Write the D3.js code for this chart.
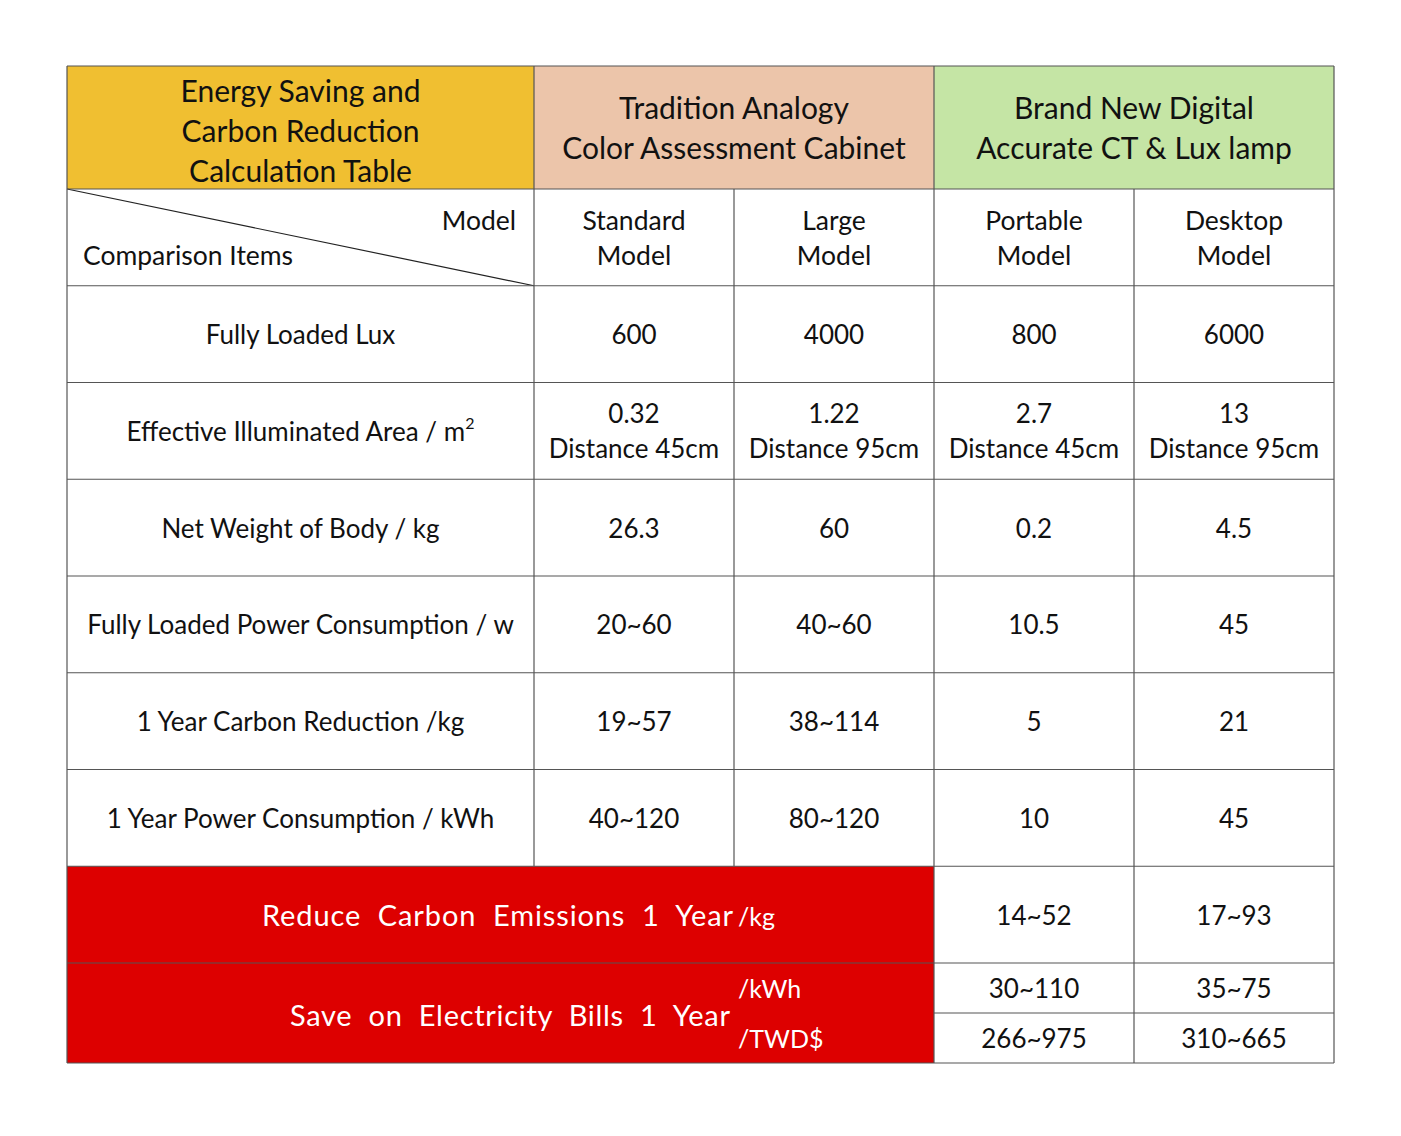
<!DOCTYPE html>
<html>
<head>
<meta charset="utf-8">
<script src="https://cdn.jsdelivr.net/npm/d3@7"></script>
<style>
  body { margin: 0; background: #fff; }
  text { font-family: Lato, "Open Sans", sans-serif; fill: #111; }
</style>
</head>
<body>
<svg id="wrapper" width="1401" height="1136"></svg>
<script>
// table content
let groupTitles = [
	["Energy Saving and", "Carbon Reduction", "Calculation Table"],
	["Tradition Analogy", "Color Assessment Cabinet"],
	["Brand New Digital", "Accurate CT & Lux lamp"],
];
let groupColors = ["#f0bf31", "#ecc5aa", "#c5e5a5"];
let models = [
	["Standard", "Model"],
	["Large", "Model"],
	["Portable", "Model"],
	["Desktop", "Model"],
];
let items = [
	"Fully Loaded Lux",
	"Effective Illuminated Area / m",
	"Net Weight of Body / kg",
	"Fully Loaded Power Consumption / w",
	"1 Year Carbon Reduction /kg",
	"1 Year Power Consumption / kWh",
];
let values = [
	[["600"], ["4000"], ["800"], ["6000"]],
	[["0.32", "Distance 45cm"], ["1.22", "Distance 95cm"], ["2.7", "Distance 45cm"], ["13", "Distance 95cm"]],
	[["26.3"], ["60"], ["0.2"], ["4.5"]],
	[["20~60"], ["40~60"], ["10.5"], ["45"]],
	[["19~57"], ["38~114"], ["5"], ["21"]],
	[["40~120"], ["80~120"], ["10"], ["45"]],
];
let reduceLabel = "Reduce  Carbon  Emissions  1  Year";
let reduceUnit = "/kg";
let reduceValues = ["14~52", "17~93"];
let saveLabel = "Save  on  Electricity  Bills  1  Year";
let saveUnits = ["/kWh", "/TWD$"];
let saveValues = [
	["30~110", "35~75"],
	["266~975", "310~665"],
];

let svg = d3.select("#wrapper");
const lineColor = "#555";
const red = "#dd0000";
const bodySize = 26;

// columns: item column + 4 model columns
let colWidths = [467, 200, 200, 200, 200];
let colEdges = d3.cumsum([0].concat(colWidths));
let x = d3.scaleLinear().domain([0, colEdges[colEdges.length - 1]]).range([67, 1334]);
let colX = (i) => x(colEdges[i]);
let colMid = (i) => (x(colEdges[i]) + x(colEdges[i + 1])) / 2;

// rows
let headerTop = 66, headerBottom = 189;
let bodyRows = ["models"].concat(items, ["reduce"]);
let y = d3.scaleBand().domain(bodyRows).range([headerBottom, 963]);
let lastTop = 963, lastBottom = 1063, lastMid = (lastTop + lastBottom) / 2;

let drawLines = function (g, lines, cx, cy, size, step) {
	let t = g.append("text")
		.attr("x", cx)
		.attr("y", cy)
		.attr("text-anchor", "middle")
		.attr("dominant-baseline", "central")
		.style("font-size", size + "px");
	lines.forEach((line, i) => {
		t.append("tspan")
			.attr("x", cx)
			.attr("y", cy + (i - (lines.length - 1) / 2) * step)
			.text(line);
	});
	return t;
};

// header group cells
let groupSpans = [[0, 1], [1, 3], [3, 5]];
groupSpans.forEach((span, i) => {
	svg.append("rect")
		.attr("x", colX(span[0]))
		.attr("y", headerTop)
		.attr("width", colX(span[1]) - colX(span[0]))
		.attr("height", headerBottom - headerTop)
		.attr("fill", groupColors[i]);
	let cx = (colX(span[0]) + colX(span[1])) / 2;
	drawLines(svg, groupTitles[i], cx, i === 0 ? 130 : 127, 30, 40);
});

// red label cells
svg.append("rect")
	.attr("x", colX(0)).attr("y", y("reduce"))
	.attr("width", colX(3) - colX(0)).attr("height", y.bandwidth())
	.attr("fill", red);
svg.append("rect")
	.attr("x", colX(0)).attr("y", lastTop)
	.attr("width", colX(3) - colX(0)).attr("height", lastBottom - lastTop)
	.attr("fill", red);

// model header row
let my = y("models") + y.bandwidth() / 2;
models.forEach((m, i) => drawLines(svg, m, colMid(i + 1), my, 26.5, 35));
svg.append("text").attr("x", colX(1) - 18).attr("y", my - 17)
	.attr("text-anchor", "end").attr("dominant-baseline", "central")
	.style("font-size", "26.5px").text("Model");
svg.append("text").attr("x", colX(0) + 16).attr("y", my + 18)
	.attr("dominant-baseline", "central")
	.style("font-size", "26.5px").text("Comparison Items");
svg.append("line")
	.attr("x1", colX(0)).attr("y1", y("models"))
	.attr("x2", colX(1)).attr("y2", y("models") + y.bandwidth())
	.attr("stroke", "#222").attr("stroke-width", 1.2);

// data rows
items.forEach((item, r) => {
	let cy = y(item) + y.bandwidth() / 2;
	let t = drawLines(svg, [item], colMid(0), cy, bodySize, 35);
	if (r === 1) {
		t.select("tspan").append("tspan")
			.attr("dy", -9).style("font-size", "16px").text("2");
	}
	values[r].forEach((v, c) => drawLines(svg, v, colMid(c + 1), cy, bodySize, 35));
});

// reduce carbon row
let ry = y("reduce") + y.bandwidth() / 2;
svg.append("text").attr("x", 262).attr("y", ry)
	.attr("dominant-baseline", "central")
	.attr("textLength", 471).attr("lengthAdjust", "spacing")
	.attr("xml:space", "preserve")
	.style("font-size", "29px").style("fill", "#fff").text(reduceLabel);
svg.append("text").attr("x", 738).attr("y", ry + 1)
	.attr("dominant-baseline", "central")
	.style("font-size", "25px").style("fill", "#fff").text(reduceUnit);
reduceValues.forEach((v, c) => drawLines(svg, [v], colMid(c + 3), ry, bodySize, 35));

// save bills row
svg.append("text").attr("x", 290).attr("y", lastMid + 1)
	.attr("dominant-baseline", "central")
	.attr("textLength", 440).attr("lengthAdjust", "spacing")
	.attr("xml:space", "preserve")
	.style("font-size", "29px").style("fill", "#fff").text(saveLabel);
saveUnits.forEach((u, i) => {
	svg.append("text").attr("x", 738).attr("y", lastMid + (i === 0 ? -25 : 25))
		.attr("dominant-baseline", "central")
		.style("font-size", "25px").style("fill", "#fff").text(u);
});
let subY = d3.scaleBand().domain([0, 1]).range([lastTop, lastBottom]);
saveValues.forEach((row, r) => {
	row.forEach((v, c) => drawLines(svg, [v], colMid(c + 3), subY(r) + subY.bandwidth() / 2, bodySize, 35));
});

// grid lines
let grid = svg.append("g").attr("stroke", lineColor).attr("stroke-width", 1.2);
let hLines = [headerTop, headerBottom].concat(bodyRows.map((d) => y(d) + y.bandwidth()), [lastBottom]);
hLines.forEach((hy) => {
	grid.append("line").attr("x1", colX(0)).attr("x2", colX(5)).attr("y1", hy).attr("y2", hy);
});
grid.append("line").attr("x1", colX(3)).attr("x2", colX(5))
	.attr("y1", subY(1)).attr("y2", subY(1));
// vertical lines
colEdges.forEach((e, i) => {
	let y1 = headerTop, y2 = lastBottom;
	if (i === 2 || i === 4) {
		y1 = headerBottom;
		if (i === 2) y2 = y("reduce");
	} else if (i === 1) {
		y2 = y("reduce");
	}
	grid.append("line").attr("x1", colX(i)).attr("x2", colX(i)).attr("y1", y1).attr("y2", y2);
});
</script>
</body>
</html>
